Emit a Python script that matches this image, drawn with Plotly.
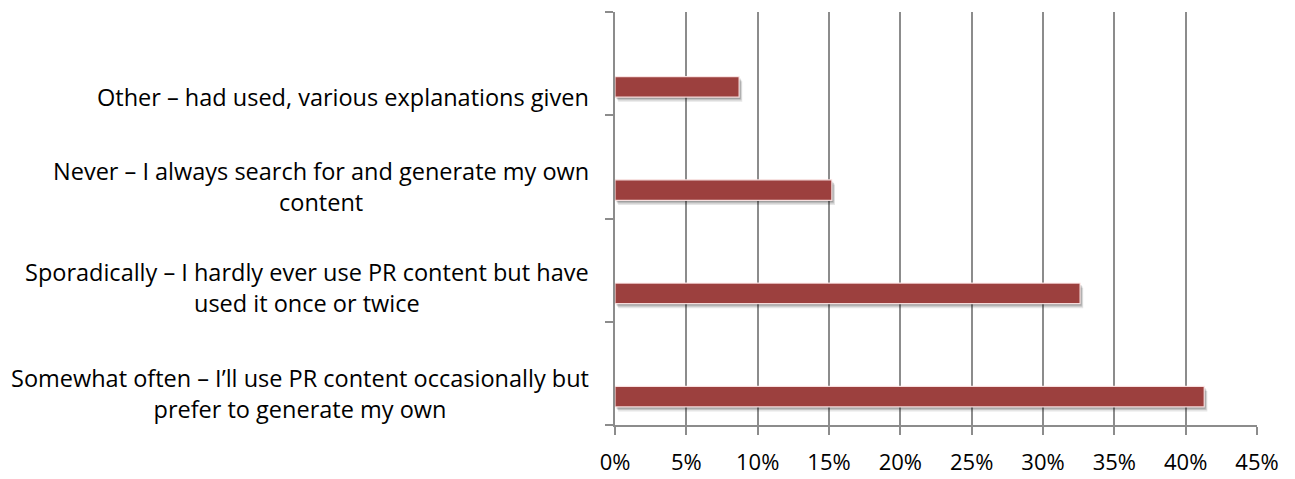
import plotly.graph_objects as go

# Data (bottom to top, as displayed)
categories = [
    "Somewhat often – I’ll use PR content occasionally but<br>prefer to generate my own",
    "Sporadically – I hardly ever use PR content but have<br>used it once or twice",
    "Never – I always search for and generate my own<br>content",
    "Other – had used, various explanations given",
]
values = [0.413, 0.326, 0.152, 0.087]
x_ticks = [0, 0.05, 0.10, 0.15, 0.20, 0.25, 0.30, 0.35, 0.40, 0.45]

pos = list(range(len(categories)))
BAR_W = 0.2
BAR_OFF = -0.325
label_y = [p + BAR_OFF + BAR_W / 2 for p in pos]
label_yshift = [3, 6, 4, -10]

FONT = "Open Sans"
GRID = "#8c8c8c"

fig = go.Figure()

# soft shadow layers
for dy, dx, alpha in [(0.045, 0.0022, 0.10), (0.03, 0.0016, 0.14), (0.018, 0.0010, 0.18)]:
    fig.add_trace(go.Bar(
        y=pos, x=values, base=dx, orientation="h",
        width=BAR_W, offset=BAR_OFF - dy,
        marker=dict(color=f"rgba(0,0,0,{alpha})", line=dict(width=0)),
        hoverinfo="skip", showlegend=False,
    ))

fig.add_trace(go.Bar(
    y=pos, x=values, orientation="h",
    width=BAR_W, offset=BAR_OFF,
    marker=dict(color="#9c403e", line=dict(color="rgba(255,235,235,0.9)", width=1.2)),
    showlegend=False,
))

for i, (txt, yv) in enumerate(zip(categories, label_y)):
    fig.add_annotation(
        x=0, xref="paper", y=yv, yref="y",
        text=txt, showarrow=False, xanchor="right", yanchor="middle",
        align="center", xshift=-24, yshift=label_yshift[i],
        font=dict(family=FONT, size=23.5, color="#000000"),
    )

fig.update_layout(
    width=1295, height=479,
    margin=dict(l=615, r=38, t=12, b=54, autoexpand=False),
    paper_bgcolor="white", plot_bgcolor="white",
    barmode="overlay",
    xaxis=dict(
        range=[0, 0.45], tickvals=x_ticks, tickformat=".0%",
        showgrid=True, gridcolor=GRID, gridwidth=1.5,
        showline=True, linecolor=GRID, linewidth=1.5,
        ticks="outside", ticklen=8, tickcolor=GRID, tickwidth=1.5,
        tickfont=dict(family=FONT, size=22, color="#000000"),
        ticklabelstandoff=9, automargin=False,
        zeroline=False, fixedrange=True,
    ),
    yaxis=dict(
        range=[-0.5, 3.5], tickvals=[-0.5, 0.5, 1.5, 2.5, 3.5],
        ticktext=["", "", "", "", ""],
        showgrid=False, zeroline=False, automargin=False,
        showline=True, linecolor=GRID, linewidth=1.5,
        ticks="outside", ticklen=8, tickcolor=GRID, tickwidth=1.5,
        fixedrange=True,
    ),
)

fig.write_html("out.html")
